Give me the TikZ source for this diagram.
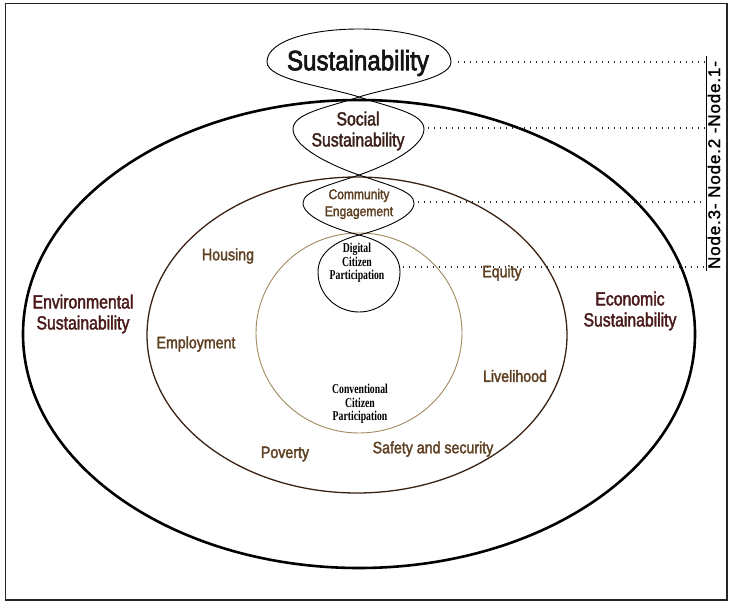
\documentclass[tikz,border=0pt]{standalone}
\usepackage{fontspec}
\setmainfont{Liberation Sans}
\newfontfamily\nA[FakeStretch=0.86,FakeBold=2]{Liberation Sans}
\newfontfamily\nBig[FakeStretch=0.86,FakeBold=2.5]{Liberation Sans}
\newfontfamily\nB[FakeStretch=0.83,FakeBold=2]{Liberation Sans}
\newfontfamily\nS[FakeStretch=0.72]{Liberation Serif}
\newfontfamily\nN[LetterSpace=5,FakeBold=1.5]{Liberation Sans}
\definecolor{maroonT}{HTML}{4A1A1A}
\definecolor{darkT}{HTML}{3A2018}
\definecolor{labT}{HTML}{5E4022}
\definecolor{midL}{HTML}{3A2214}
\definecolor{innerL}{HTML}{A08A60}
\tikzset{
  shapeline/.style={draw=black, line width=0.9pt},
  dotline/.style={line width=1.4pt, dash pattern=on 1.4pt off 4.6pt, draw=black!85},
  bigsus/.style={inner sep=0pt, text=black!92, font=\nBig\fontsize{28}{30}\selectfont},
  lvl/.style={inner sep=0pt, align=center, text=maroonT, font=\nB\fontsize{19}{21}\selectfont},
  soc/.style={inner sep=0pt, align=center, text=darkT, font=\nB\fontsize{19}{21}\selectfont},
  lab/.style={inner sep=0pt, text=labT, font=\nA\fontsize{16.5}{18}\selectfont},
  com/.style={inner sep=0pt, align=center, text=labT, font=\nA\fontsize{14}{17}\selectfont},
  tiny/.style={inner sep=0pt, align=center, text=black, font=\nS\bfseries\fontsize{13.5}{13.5}\selectfont},
  nodetxt/.style={inner sep=0pt, rotate=90, text=black, font=\nN\fontsize{17}{17}\selectfont}
}
\begin{document}
\begin{tikzpicture}[x=1pt,y=-1pt]
\useasboundingbox (0,0) rectangle (730,604);
\fill[white] (0,0) rectangle (730,604);
% frame
\draw[line width=1.5pt, black!85] (5.5,3.5) rectangle (727,600);
% big ellipses
\draw[line width=2.6pt, black] (359,334) ellipse [x radius=336, y radius=234];
\draw[line width=1.3pt, midL] (357,335) ellipse [x radius=210, y radius=158];
\draw[line width=0.9pt, innerL] (359,333) ellipse [x radius=103, y radius=100];
% key points of the chained shapes
\coordinate (T0) at (359,29);
\coordinate (L0) at (267,62);
\coordinate (R0) at (451,62);
\coordinate (B0) at (359,97);
\coordinate (L1) at (293,129);
\coordinate (R1) at (424,129);
\coordinate (B1) at (359,175);
\coordinate (L2) at (303,203);
\coordinate (R2) at (414,203);
\coordinate (B2) at (359,235);
\coordinate (L3) at (318,272);
\coordinate (R3) at (400,272);
\coordinate (B3) at (359,312);
% Sustainability shape
\draw[shapeline] (B0) .. controls (329,87) and (267,80) .. (L0)
  .. controls (267,40) and (313,29) .. (T0)
  .. controls (405,29) and (451,40) .. (R0)
  .. controls (451,80) and (389,87) .. (B0);
% Social shape
\draw[shapeline] (B0) .. controls (329,107) and (293,113) .. (L1)
  .. controls (293,147) and (330,165) .. (B1)
  .. controls (388,165) and (424,147) .. (R1)
  .. controls (424,113) and (389,107) .. (B0);
% Community shape
\draw[shapeline] (B1) .. controls (330,185) and (303,191) .. (L2)
  .. controls (303,217) and (335,229) .. (B2)
  .. controls (383,229) and (414,217) .. (R2)
  .. controls (414,191) and (388,185) .. (B1);
% Digital shape
\draw[shapeline] (B2) .. controls (335,241) and (318,253) .. (L3)
  .. controls (318,296) and (338,312) .. (B3)
  .. controls (380,312) and (400,296) .. (R3)
  .. controls (400,253) and (383,241) .. (B2);
% dotted leaders and bracket line
\coordinate (E0) at (706,62);
\coordinate (E1) at (706,128);
\coordinate (E2) at (706,202);
\coordinate (E3) at (706,267);
\coordinate (S0) at (458,62);
\coordinate (S1) at (428,128);
\coordinate (S2) at (418,202);
\coordinate (S3) at (403,267);
\draw[dotline] (S0) -- (E0);
\draw[dotline] (S1) -- (E1);
\draw[dotline] (S2) -- (E2);
\draw[dotline] (S3) -- (E3);
\coordinate (VT) at (706,56);
\coordinate (VB) at (706,271);
\draw[line width=0.9pt, black] (VT) -- (VB);
\node[nodetxt] (nl) at (714,165) {Node.3- Node.2 -Node.1-};
% texts
\node[bigsus] (sus) at (358,63) {Sustainability};
\node[soc] (soc) at (358,131) {Social\\Sustainability};
\node[com] (comm) at (359,204) {Community\\Engagement};
\node[tiny] (dig) at (357,263) {Digital\\Citizen\\Participation};
\node[tiny] (conv) at (360,404) {Conventional\\Citizen\\Participation};
\node[lvl] (env) at (83,314) {Environmental\\Sustainability};
\node[lvl] (eco) at (630,311) {Economic\\Sustainability};
\node[lab] (hou) at (228,256) {Housing};
\node[lab] (emp) at (196,344) {Employment};
\node[lab] (equ) at (502,273) {Equity};
\node[lab] (liv) at (515,376) {Livelihood};
\node[lab] (pov) at (285,454) {Poverty};
\node[lab] (saf) at (433,449) {Safety and security};
\end{tikzpicture}
\end{document}
